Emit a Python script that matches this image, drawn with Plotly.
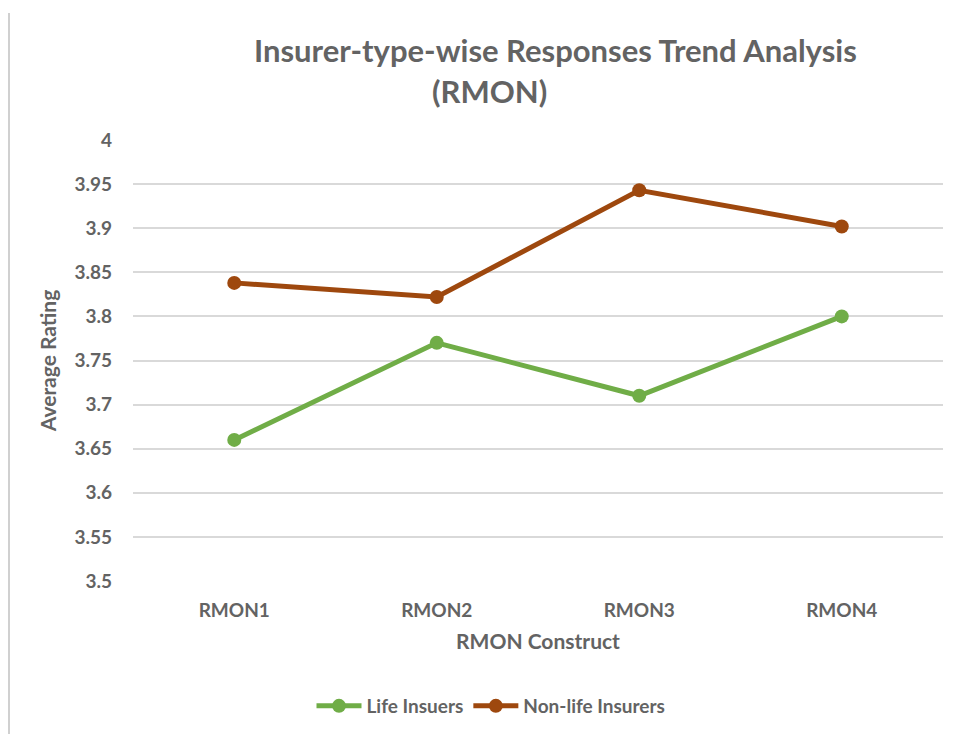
import plotly.graph_objects as go

# Survey construct items and average ratings per insurer type
categories = ["RMON1", "RMON2", "RMON3", "RMON4"]
life_insurers = [3.66, 3.77, 3.71, 3.80]
non_life_insurers = [3.838, 3.822, 3.943, 3.902]
series_names = ["Life Insuers", "Non-life Insurers"]
y_ticks = [3.5, 3.55, 3.6, 3.65, 3.7, 3.75, 3.8, 3.85, 3.9, 3.95, 4]
y_tick_labels = ["3.5", "3.55", "3.6", "3.65", "3.7", "3.75", "3.8", "3.85", "3.9", "3.95", "4"]

W, H = 956, 734
L, R, T, B = 133, 13, 140, 153
PW, PH = W - L - R, H - T - B

TEXT = "#636363"
FONT = "Lato"

fig = go.Figure()
fig.add_trace(go.Scatter(
    x=categories, y=life_insurers, name=f"<b>{series_names[0]}</b>", mode="lines+markers",
    line=dict(color="#70AD47", width=5), marker=dict(size=14, color="#70AD47"),
))
fig.add_trace(go.Scatter(
    x=categories, y=non_life_insurers, name=f"<b>{series_names[1]}</b>", mode="lines+markers",
    line=dict(color="#9E480E", width=5), marker=dict(size=14, color="#9E480E"),
))


def px_x(p):
    return (p - L) / PW


def px_y(p):
    return 1 - (p - T) / PH


annotations = [
    dict(text="<b>Insurer-type-wise Responses Trend Analysis</b>", x=px_x(555), y=px_y(50),
         xref="paper", yref="paper", showarrow=False, xanchor="center", yanchor="middle",
         font=dict(family=FONT, size=31, color=TEXT)),
    dict(text="<b>(RMON)</b>", x=px_x(489), y=px_y(91),
         xref="paper", yref="paper", showarrow=False, xanchor="center", yanchor="middle",
         font=dict(family=FONT, size=31, color=TEXT)),
]

fig.update_layout(
    width=W, height=H,
    margin=dict(l=L, r=R, t=T, b=B, autoexpand=False),
    paper_bgcolor="white", plot_bgcolor="white",
    font=dict(family=FONT, color=TEXT),
    showlegend=True,
    legend=dict(orientation="h", x=px_x(491), y=px_y(706), xanchor="center", yanchor="middle",
                font=dict(family=FONT, size=19, color=TEXT), itemwidth=45,
                bgcolor="rgba(0,0,0,0)"),
    xaxis=dict(
        type="category", range=[-0.5, 3.5], showgrid=False, zeroline=False, showline=False,
        automargin=False,
        ticks="", tickfont=dict(family=FONT, size=19, color=TEXT), ticklabelstandoff=16,
        title=dict(text="<b>RMON Construct</b>", font=dict(family=FONT, size=21, color=TEXT), standoff=14),
        tickprefix="<b>", ticksuffix="</b>",
    ),
    yaxis=dict(
        range=[3.5, 4.0], tickvals=y_ticks, ticktext=[f"<b>{t}</b>" for t in y_tick_labels],
        automargin=False,
        showgrid=True, gridcolor="#D9D9D9", gridwidth=1.5, zeroline=False, showline=False,
        ticks="", tickfont=dict(family=FONT, size=19, color=TEXT), ticklabelstandoff=20,
        title=dict(text="<b>Average Rating</b>", font=dict(family=FONT, size=21, color=TEXT), standoff=12),
    ),
    annotations=annotations,
    shapes=[dict(type="line", xref="paper", yref="paper",
                 x0=px_x(9), x1=px_x(9), y0=px_y(13), y1=px_y(734),
                 line=dict(color="#D0D0D0", width=2))],
)

fig.write_html("out.html")
